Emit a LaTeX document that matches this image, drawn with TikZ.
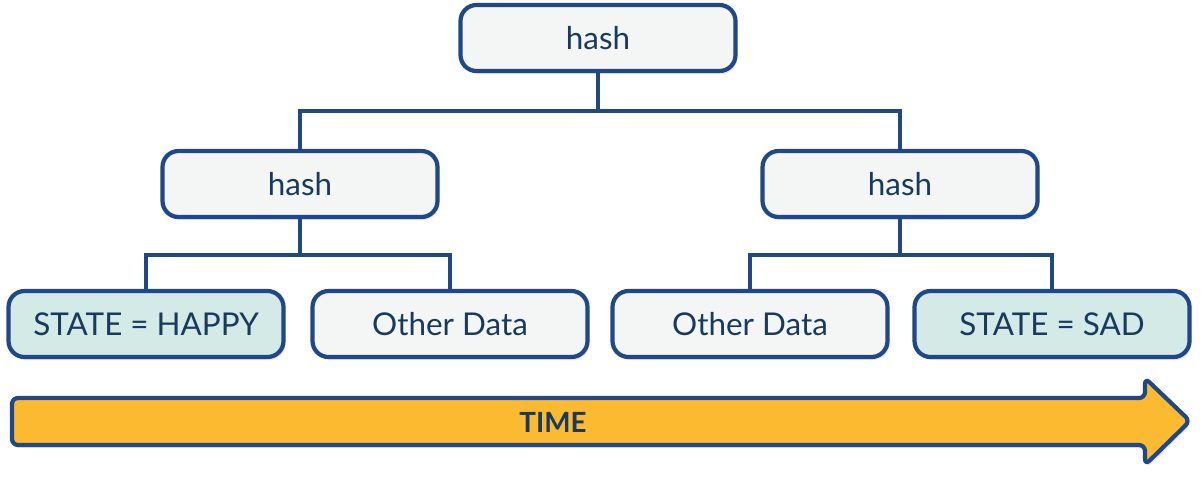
\documentclass[tikz,border=0pt]{standalone}
\usepackage{fontspec}
\setmainfont{Lato}
\usepackage{tikz}
\usetikzlibrary{calc,shadows}
\definecolor{edgeblue}{HTML}{1F4888}
\definecolor{boxgrey}{HTML}{F3F6F4}
\definecolor{boxteal}{HTML}{D3EAE6}
\definecolor{textnavy}{HTML}{173A5E}
\definecolor{timegold}{HTML}{FBBA30}

\begin{document}
\begin{tikzpicture}[x=0.5pt,y=-0.5pt,font=\fontsize{15.7}{18}\selectfont,
   box/.style={draw=edgeblue,line width=2.1pt,rounded corners=8pt,fill=boxgrey,
               text=textnavy,minimum width=137.5pt,minimum height=33pt,align=center,
               drop shadow={opacity=0.18,shadow xshift=1pt,shadow yshift=-1.5pt}},
   leaf/.style={box,fill=boxteal},
   link/.style={draw=edgeblue,line width=2.1pt}]
  \useasboundingbox (0,0) rectangle (1203,484);
  % leaves
  \node[leaf] (happy) at (146,324) {STATE = HAPPY};
  \node[box] (otherl) at (450,324) {Other Data};
  \node[box] (otherr) at (750,324) {Other Data};
  \node[leaf] (sad) at (1052,324) {STATE = SAD};
  % hashes
  \node[box] (hashl) at (300,184) {hash};
  \node[box] (hashr) at (900,184) {hash};
  \node[box] (root) at (598,38) {hash};
  % tree links
  \draw[link] (root.south) -- ++(0,38) coordinate (rj);
  \draw[link] (hashl.north) |- (rj) -| (hashr.north);
  \draw[link] (hashl.south) -- ++(0,36) coordinate (lj);
  \draw[link] (happy.north) |- (lj) -| (otherl.north);
  \draw[link] (hashr.south) -- ++(0,36) coordinate (rj2);
  \draw[link] (otherr.north) |- (rj2) -| (sad.north);
  % time arrow
  \draw[draw=edgeblue,line width=2.1pt,fill=timegold,rounded corners=3pt,line join=round,
        drop shadow={opacity=0.18,shadow xshift=1pt,shadow yshift=-1.5pt}]
    (12,398) -- (1145,398) -- (1145,378) -- (1190,421) -- (1145,465)
    -- (1145,445) -- (12,445) -- cycle;
  \node[text=textnavy,font=\fontsize{13.9}{16}\selectfont\bfseries] (time) at (553,422) {TIME};
\end{tikzpicture}
\end{document}
